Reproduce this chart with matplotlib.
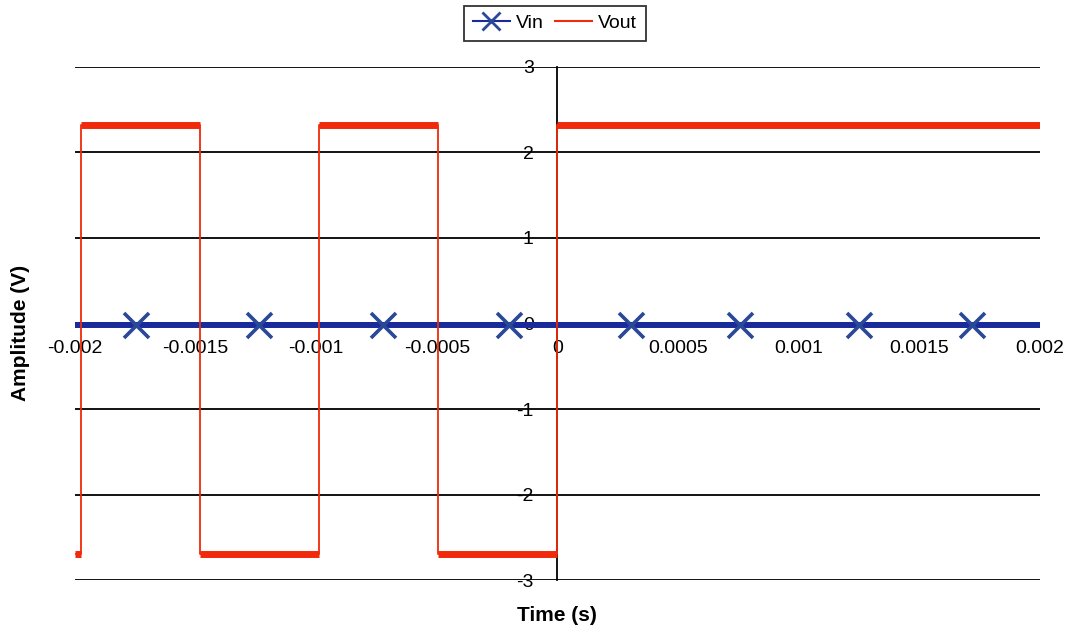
import matplotlib.pyplot as plt
from matplotlib.lines import Line2D

# Vout square wave: switching instants (s) and the two levels (V)
vout_edges = [-0.001976, -0.001482, -0.000988, -0.000494, 0.0]
vout_high = 2.32
vout_low = -2.69
t_start, t_end = -0.002, 0.002

# Vin: flat trace near zero, markers where Excel placed them
vin_level = -0.015
vin_marker_t = [-0.001747, -0.001237, -0.000723, -0.000201,
                0.000305, 0.000756, 0.00125, 0.001718]

yticks = [-3, -2, -1, 0, 1, 2, 3]
xticks = [-0.002, -0.0015, -0.001, -0.0005, 0, 0.0005, 0.001, 0.0015, 0.002]
xticklabels = ["-0.002", "-0.0015", "-0.001", "-0.0005", "0",
               "0.0005", "0.001", "0.0015", "0.002"]

plt.rcParams["font.family"] = ["Liberation Sans", "DejaVu Sans"]

# build step trace for Vout
t_out, v_out = [t_start], [vout_low]
level = vout_low
for e in vout_edges:
    t_out.append(e)
    v_out.append(level)
    level = vout_high if level == vout_low else vout_low
    t_out.append(e)
    v_out.append(level)
t_out.append(t_end)
v_out.append(level)

blue = "#1a2a9a"
red = "#f02a0a"
mark = "#2a4898"

fig = plt.figure(figsize=(10.73, 6.33), dpi=100)
ax = fig.add_axes([0.0699, 0.0837, 0.8993, 0.8105])

for y in yticks:
    ax.axhline(y, color="black", lw=1.3, zorder=1)

# Vin trace (thick line stands in for the noise band)
ax.plot([t_start, t_end], [vin_level, vin_level], color=blue, lw=4.3, zorder=2,
        solid_capstyle="butt")
ax.plot(vin_marker_t, [vin_level] * len(vin_marker_t), ls="none", marker="x",
        ms=18, mew=2.6, color=mark, zorder=3)

# Vout: thin edges, thick plateaus
ax.plot(t_out, v_out, color=red, lw=1.3, zorder=4)
for i in range(0, len(t_out) - 1, 2):
    ax.plot(t_out[i:i + 2], v_out[i:i + 2], color=red, lw=5,
            solid_capstyle="butt", zorder=4)

ax.set_xlim(t_start, t_end)
ax.set_ylim(-3, 3)
ax.spines["left"].set_position(("data", 0))
ax.spines["top"].set_visible(False)
ax.spines["right"].set_visible(False)
ax.spines["left"].set_linewidth(1.3)
ax.spines["left"].set_zorder(3)
ax.spines["bottom"].set_visible(False)

ax.set_yticks(yticks)
ax.set_yticklabels([str(y) for y in yticks])
ax.set_xticks(xticks)
ax.set_xticklabels(xticklabels)
ax.tick_params(axis="y", length=0, pad=17, labelsize=14)
ax.tick_params(axis="x", length=0, pad=12, labelsize=14)
# x tick labels sit just below the y = 0 line
for lab in ax.get_xticklabels():
    lab.set_y(0.5)
    lab.set_va("top")

fig.text(0.519, 0.028, "Time (s)", ha="center", va="center",
         fontsize=15, fontweight="bold")
fig.text(0.019, 0.474, "Amplitude (V)", ha="center", va="center",
         fontsize=15, fontweight="bold", rotation=90)

handles = [Line2D([], [], color=blue, lw=1.5, marker="x", ms=13, mew=2,
                  markeredgecolor=mark),
           Line2D([], [], color=red, lw=1.5)]
leg = fig.legend(handles, ["Vin", "Vout"], loc="upper center",
                 bbox_to_anchor=(0.517, 1.0), ncol=2, frameon=True,
                 fancybox=False, edgecolor="black", fontsize=14,
                 handlelength=1.9, handletextpad=0.3, columnspacing=0.6,
                 borderpad=0.45, borderaxespad=0.3)
leg.get_frame().set_linewidth(1.3)

fig.savefig("out.png", dpi=100)
